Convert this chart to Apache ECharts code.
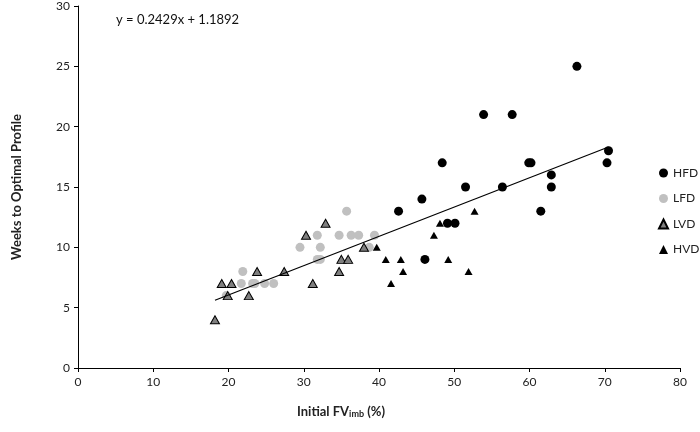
<!DOCTYPE html>
<html>
<head>
<meta charset="utf-8">
<script src="https://cdn.jsdelivr.net/npm/echarts@6/dist/echarts.min.js"></script>
<style>
  html, body { margin: 0; padding: 0; background: #fff; }
  #chart { width: 700px; height: 432px; }
</style>
</head>
<body>
<div id="chart"></div>
<script>
// [Initial FVimb %, weeks]
const hfd = [[42.6,13],[45.7,14],[46.1,9],[48.4,17],[49.1,12],[50.1,12],[51.5,15],[53.9,21],[56.4,15],[57.7,21],
  [59.9,17],[60.2,17],[61.5,13],[62.9,16],[62.9,15],[66.3,25],[70.3,17],[70.5,18]];
const lfd = [[19.7,6],[21.7,7],[21.9,8],[23.2,7],[23.5,7],[24.8,7],[26.0,7],[29.5,10],[31.8,11],[32.2,10],
  [31.8,9],[32.2,9],[34.7,11],[35.7,13],[36.3,11],[37.3,11],[38.7,10],[39.4,11]];
const lvd = [[18.2,4],[19.1,7],[19.9,6],[20.4,7],[22.7,6],[23.8,8],[27.4,8],[30.3,11],[31.2,7],[32.9,12],
  [34.7,8],[35.0,9],[35.9,9],[38.0,10]];
const hvd = [[39.7,10],[40.9,9],[41.6,7],[42.9,9],[43.2,8],[47.3,11],[48.1,12],[49.2,9],[51.9,8],[52.7,13]];

const slope = 0.2429;
const intercept = 1.1892;
const xTicks = [0, 10, 20, 30, 40, 50, 60, 70, 80];
const yTicks = [0, 5, 10, 15, 20, 25, 30];

const allX = [...hfd, ...lfd, ...lvd, ...hvd].map(p => p[0]);
const x0 = Math.min(...allX);
const x1 = Math.max(...allX);
const trend = [[x0, slope * x0 + intercept], [x1, slope * x1 + intercept]];

const font = 'Lato, "Open Sans", sans-serif';
const chart = echarts.init(document.getElementById('chart'));

const option = {
  animation: false,
  textStyle: { fontFamily: font },
  title: {
    text: 'y = ' + slope + 'x + ' + intercept,
    left: 111,
    top: 8,
    textStyle: { fontFamily: font, fontSize: 13, fontWeight: 'normal', color: '#111' }
  },
  legend: {
    orient: 'vertical',
    left: 658,
    top: 167,
    padding: 0,
    itemGap: 13.5,
    itemWidth: 9,
    itemHeight: 9,
    textStyle: { fontFamily: font, fontSize: 12, color: '#222' },
    data: ['HFD', 'LFD', 'LVD', 'HVD']
  },
  grid: { left: 78, right: 20, top: 5, bottom: 64 },
  xAxis: {
    type: 'value',
    min: xTicks[0],
    max: xTicks[xTicks.length - 1],
    interval: 10,
    splitLine: { show: false },
    axisLine: { lineStyle: { color: '#000', width: 1 } },
    axisTick: { show: true, length: 4, lineStyle: { color: '#000' } },
    axisLabel: { fontFamily: font, fontSize: 12, color: '#222', margin: 8 },
    name: '{b|Initial FV}{s|imb}{b| (%)}',
    nameLocation: 'middle',
    nameGap: 36,
    nameTextStyle: {
      padding: [0, 76, 0, 0],
      rich: {
        b: { fontFamily: font, fontSize: 13, fontWeight: 'bold', color: '#222' },
        s: { fontFamily: font, fontSize: 9, fontWeight: 'bold', color: '#222', verticalAlign: 'bottom', padding: [6, 0, 0, 0] }
      }
    }
  },
  yAxis: {
    type: 'value',
    min: yTicks[0],
    max: yTicks[yTicks.length - 1],
    interval: 5,
    splitLine: { show: false },
    axisLine: { show: true, lineStyle: { color: '#000', width: 1 } },
    axisTick: { show: true, length: 4, lineStyle: { color: '#000' } },
    axisLabel: { fontFamily: font, fontSize: 12, color: '#222', margin: 8 },
    name: 'Weeks to Optimal Profile',
    nameLocation: 'middle',
    nameGap: 55,
    nameTextStyle: { fontFamily: font, fontSize: 13, fontWeight: 'bold', color: '#222' }
  },
  series: [
    {
      name: 'HFD', type: 'scatter', data: hfd,
      symbol: 'circle', symbolSize: 9,
      itemStyle: { color: '#000', opacity: 1 }
    },
    {
      name: 'LFD', type: 'scatter', data: lfd,
      symbol: 'circle', symbolSize: 9,
      itemStyle: { color: '#c0c0c0', opacity: 1 }
    },
    {
      name: 'LVD', type: 'scatter', data: lvd,
      symbol: 'triangle', symbolSize: [9, 8],
      itemStyle: { color: '#7f7f7f', borderColor: '#000', borderWidth: 1, opacity: 1 }
    },
    {
      name: 'HVD', type: 'scatter', data: hvd,
      symbol: 'triangle', symbolSize: [8, 7],
      itemStyle: { color: '#000', opacity: 1 }
    },
    {
      name: 'trend', type: 'line', data: trend,
      symbol: 'none', silent: true, z: 5,
      lineStyle: { color: '#000', width: 1.2 }
    }
  ]
};

chart.setOption(option);
</script>
</body>
</html>
